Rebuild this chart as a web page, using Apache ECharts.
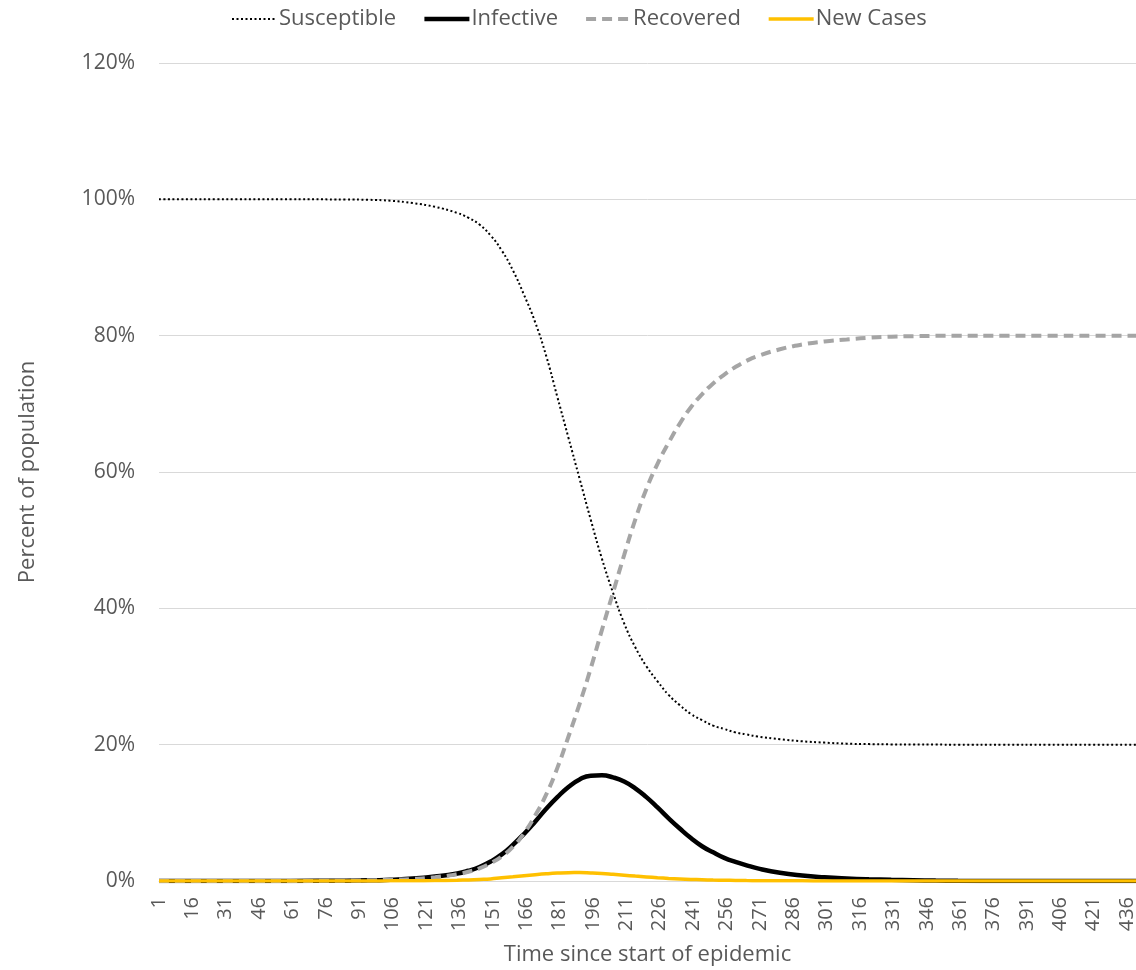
<!DOCTYPE html>
<html>
<head>
<meta charset="utf-8">
<script src="https://cdn.jsdelivr.net/npm/echarts@6/dist/echarts.min.js"></script>
<style>
  html, body { margin: 0; padding: 0; background: #ffffff; }
  #chart { width: 1136px; height: 970px; }
</style>
</head>
<body>
<div id="chart"></div>
<script>
// Day of the epidemic at which each compartment is sampled
const days = [1, 60, 85, 95, 105, 115, 125, 135, 140, 145, 150, 155, 160, 165, 170, 175, 180, 185, 190, 195,
  200, 205, 210, 215, 220, 225, 230, 235, 240, 245, 250, 255, 260, 265, 270, 280, 290, 300, 310, 320,
  330, 340, 350, 360, 380, 400, 420, 440];

// Share of the population (%) in each compartment on those days
const susceptible = [100, 100, 99.98, 99.93, 99.8, 99.45, 98.9, 98.0, 97.3, 96.3, 94.7, 92.5, 89.6, 86.0, 82.0, 77.0, 71.0, 65.0, 59.0, 53.0,
  47.3, 42.3, 37.8, 34.3, 31.5, 29.3, 27.3, 25.8, 24.5, 23.6, 22.8, 22.3, 21.8, 21.5, 21.2, 20.8, 20.5, 20.3, 20.15, 20.08,
  20.04, 20.02, 20.01, 20.0, 20.0, 20.0, 20.0, 20.0];

const infective = [0, 0.01, 0.05, 0.1, 0.2, 0.35, 0.65, 1.1, 1.5, 2.05, 2.85, 3.9, 5.3, 6.9, 8.7, 10.6, 12.3, 13.8, 14.9, 15.45,
  15.5, 15.2, 14.6, 13.6, 12.3, 10.8, 9.2, 7.7, 6.3, 5.1, 4.2, 3.4, 2.8, 2.3, 1.85, 1.2, 0.8, 0.55, 0.38, 0.26,
  0.18, 0.12, 0.06, 0.02, 0, 0, 0, 0];

const recovered = [0, 0.01, 0.05, 0.1, 0.18, 0.3, 0.55, 1.0, 1.35, 1.85, 2.6, 3.6, 5.0, 7.0, 9.6, 12.7, 16.6, 21.2, 26.0, 31.2,
  36.8, 42.3, 47.8, 53.0, 57.5, 61.2, 64.3, 67.1, 69.5, 71.4, 73.0, 74.3, 75.4, 76.3, 77.0, 78.0, 78.7, 79.15, 79.45, 79.7,
  79.85, 79.93, 79.97, 80.0, 80.0, 80.0, 80.0, 80.0];

const newCases = [0, 0, 0.005, 0.01, 0.02, 0.04, 0.07, 0.12, 0.16, 0.22, 0.3, 0.48, 0.62, 0.78, 0.93, 1.06, 1.16, 1.22, 1.23, 1.18,
  1.1, 0.98, 0.85, 0.72, 0.6, 0.48, 0.38, 0.3, 0.23, 0.18, 0.14, 0.11, 0.08, 0.06, 0.05, 0.03, 0.02, 0.01, 0.01, 0,
  0, 0, 0, 0, 0, 0, 0, 0];

// Axis tick labels
const xTickLabels = [1, 16, 31, 46, 61, 76, 91, 106, 121, 136, 151, 166, 181, 196, 211, 226, 241, 256, 271, 286,
  301, 316, 331, 346, 361, 376, 391, 406, 421, 436];
const yMin = 0, yMax = 120, yStep = 20;

const pairs = (vals) => days.map((d, i) => [d, vals[i]]);

const FONT = '"Open Sans", "Noto Sans", sans-serif';
const TEXT = '#595959';

const baseLine = { type: 'line', symbol: 'none', smooth: 0.5, silent: true };

const chart = echarts.init(document.getElementById('chart'), null, { renderer: 'canvas' });
chart.setOption({
  animation: false,
  backgroundColor: '#ffffff',
  textStyle: { fontFamily: FONT, color: TEXT },
  legend: {
    top: 8,
    left: 231,
    padding: 0,
    itemWidth: 45,
    itemHeight: 14,
    itemGap: 26,
    itemStyle: { opacity: 0 },
    lineStyle: { width: 'inherit' },
    textStyle: { fontFamily: FONT, fontSize: 22, color: TEXT, padding: [0, 0, 0, -3] },
    data: ['Susceptible', 'Infective', 'Recovered', 'New Cases']
  },
  grid: { left: 159, right: 0, top: 63, bottom: 89, containLabel: false, outerBoundsMode: 'none' },
  xAxis: {
    type: 'value',
    min: 1,
    max: 440,
    name: 'Time since start of epidemic',
    nameLocation: 'middle',
    nameGap: 63,
    nameTextStyle: { fontFamily: FONT, fontSize: 22, color: TEXT },
    axisLine: { show: true, lineStyle: { color: '#d9d9d9', width: 1 } },
    axisTick: { show: false },
    splitLine: { show: false },
    axisLabel: {
      customValues: xTickLabels,
      rotate: 90,
      margin: 16,
      fontFamily: FONT,
      fontSize: 20,
      color: TEXT
    }
  },
  yAxis: {
    type: 'value',
    min: yMin,
    max: yMax,
    interval: yStep,
    name: 'Percent of population',
    nameLocation: 'middle',
    nameGap: 120,
    nameTextStyle: { fontFamily: FONT, fontSize: 22, color: TEXT },
    axisLine: { show: false },
    axisTick: { show: false },
    splitLine: { lineStyle: { color: '#d9d9d9', width: 1 } },
    axisLabel: {
      margin: 24,
      fontFamily: FONT,
      fontSize: 21,
      color: TEXT,
      formatter: (v) => v + '%'
    }
  },
  series: [
    Object.assign({}, baseLine, {
      name: 'Susceptible',
      data: pairs(susceptible),
      itemStyle: { color: '#000000' },
      lineStyle: { color: '#000000', width: 2, type: [2, 2.5], cap: 'butt' }
    }),
    Object.assign({}, baseLine, {
      name: 'Infective',
      data: pairs(infective),
      itemStyle: { color: '#000000' },
      lineStyle: { color: '#000000', width: 4.5 }
    }),
    Object.assign({}, baseLine, {
      name: 'Recovered',
      data: pairs(recovered),
      itemStyle: { color: '#a5a5a5' },
      lineStyle: { color: '#a5a5a5', width: 4, type: [10, 6], cap: 'butt' }
    }),
    Object.assign({}, baseLine, {
      name: 'New Cases',
      data: pairs(newCases),
      itemStyle: { color: '#ffc000' },
      lineStyle: { color: '#ffc000', width: 3.5 }
    })
  ]
});
</script>
</body>
</html>
